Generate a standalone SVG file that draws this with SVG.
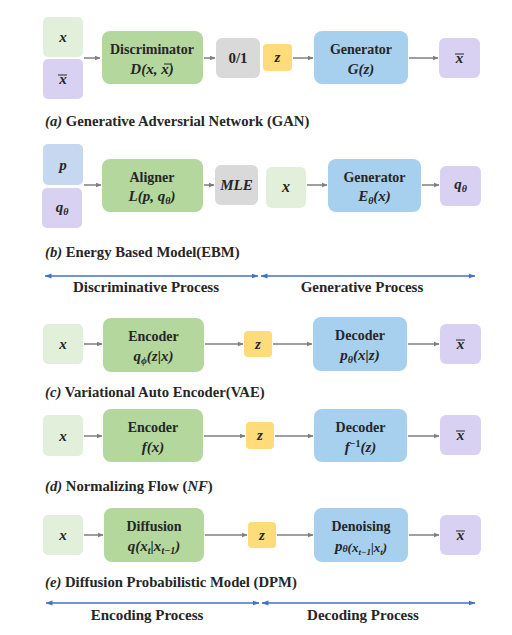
<svg xmlns="http://www.w3.org/2000/svg" width="512" height="635" viewBox="0 0 512 635">
<defs>
<marker id="ah" markerWidth="6" markerHeight="6" refX="5.5" refY="3" orient="auto" markerUnits="userSpaceOnUse"><path d="M0,0.5 L6,3 L0,5.5 Z" fill="#7f7f7f"/></marker>
<marker id="bh" markerWidth="7" markerHeight="6" refX="6.5" refY="3" orient="auto-start-reverse" markerUnits="userSpaceOnUse"><path d="M0,0.5 L7,3 L0,5.5 Z" fill="#4472c4"/></marker>
</defs>
<style>
.lg{fill:#e2efda}.g{fill:#b3d79d}.pu{fill:#d8d1f1}.gr{fill:#d9d9d9}.y{fill:#ffdc7a}.b{fill:#a7d0ee}.lb{fill:#c6d7f0}
text{font-family:"Liberation Serif","DejaVu Serif",serif;font-weight:bold;fill:#262626;text-anchor:middle}
.m{font-style:italic}
.t{font-size:14px}
.mt{font-size:15px}
.s{font-size:10px}
.cap{font-size:14.7px;text-anchor:start}
.lbl{font-size:15px}
.ob{stroke:#262626;stroke-width:1}
.c{stroke:#7f7f7f;stroke-width:1.5;fill:none;marker-end:url(#ah)}
.bl{stroke:#4472c4;stroke-width:1.5;fill:none;marker-start:url(#bh);marker-end:url(#bh)}
</style>
<rect width="512" height="635" fill="#ffffff"/>

<!-- (a) GAN -->
<g id="a_x"><rect class="lg" x="43" y="17" width="40" height="40" rx="5"/><text class="m mt" x="63" y="42">x</text></g>
<g id="a_xbar"><rect class="pu" x="43" y="59" width="40" height="40" rx="5"/><text class="m mt" x="63" y="84">x</text><line class="ob" x1="58" y1="75" x2="67" y2="75"/></g>
<g id="a_disc"><rect class="g" x="102" y="31" width="101" height="53" rx="8"/><text class="t" x="152" y="54">Discriminator</text><text class="m mt" x="152" y="74">D(x, x)</text><line class="ob" x1="164" y1="64" x2="172" y2="64"/></g>
<g id="a_01"><rect class="gr" x="216" y="38" width="44" height="40" rx="6"/><text class="t" x="238" y="63" style="font-size:15px">0/1</text></g>
<g id="a_z"><rect class="y" x="263" y="44" width="29" height="27" rx="4"/><text class="m mt" x="277.5" y="62">z</text></g>
<g id="a_gen"><rect class="b" x="314" y="31" width="94" height="53" rx="8"/><text class="t" x="361" y="54">Generator</text><text class="m mt" x="361" y="74">G(z)</text></g>
<g id="a_out"><rect class="pu" x="439" y="38" width="41" height="40" rx="6"/><text class="m mt" x="459.5" y="63">x</text><line class="ob" x1="455" y1="54" x2="464" y2="54"/></g>
<text class="cap" x="45" y="126"><tspan class="m">(a)</tspan> Generative Adversrial Network (GAN)</text>

<!-- (b) EBM -->
<g id="b_p"><rect class="lb" x="43" y="144" width="40" height="41" rx="5"/><text class="m mt" x="63" y="170">p</text></g>
<g id="b_q"><rect class="pu" x="42" y="188" width="40" height="40" rx="5"/><text class="m mt" x="62" y="212">q<tspan class="s" dy="3">θ</tspan></text></g>
<g id="b_align"><rect class="g" x="102" y="159" width="101" height="53" rx="8"/><text class="t" x="152" y="182">Aligner</text><text class="m mt" x="152" y="201">L(p, q<tspan class="s" dy="3">θ</tspan><tspan dy="-3">)</tspan></text></g>
<g id="b_mle"><rect class="gr" x="215" y="165" width="43" height="40" rx="6"/><text class="m mt" x="236.5" y="190">MLE</text></g>
<g id="b_x"><rect class="lg" x="266" y="167" width="40" height="41" rx="6"/><text class="m" x="286" y="192" style="font-size:16px">x</text></g>
<g id="b_gen"><rect class="b" x="328" y="159" width="93" height="53" rx="8"/><text class="t" x="374.5" y="182">Generator</text><text class="m mt" x="374.5" y="201">E<tspan class="s" dy="3">θ</tspan><tspan dy="-3">(x)</tspan></text></g>
<g id="b_out"><rect class="pu" x="440" y="166" width="41" height="40" rx="6"/><text class="m mt" x="460.5" y="189">q<tspan class="s" dy="3">θ</tspan></text></g>
<text class="cap" x="45" y="257"><tspan class="m">(b)</tspan> Energy Based Model(EBM)</text>

<!-- (c) VAE -->
<g id="c_x"><rect class="lg" x="43" y="324" width="40" height="40" rx="5"/><text class="m mt" x="63" y="349">x</text></g>
<g id="c_enc"><rect class="g" x="103" y="318" width="101" height="54" rx="8"/><text class="t" x="153.5" y="341">Encoder</text><text class="m mt" x="153.5" y="361">q<tspan class="s" dy="3">ϕ</tspan><tspan dy="-3">(z|x)</tspan></text></g>
<g id="c_z"><rect class="y" x="244" y="331" width="28" height="26" rx="4"/><text class="m mt" x="258" y="349">z</text></g>
<g id="c_dec"><rect class="b" x="313" y="317" width="94" height="54" rx="8"/><text class="t" x="360" y="340">Decoder</text><text class="m mt" x="360" y="360">p<tspan class="s" dy="3">θ</tspan><tspan dy="-3">(x|z)</tspan></text></g>
<g id="c_out"><rect class="pu" x="440" y="324" width="41" height="40" rx="6"/><text class="m mt" x="460.5" y="349">x</text><line class="ob" x1="456" y1="340" x2="465" y2="340"/></g>
<text class="cap" x="45" y="397"><tspan class="m">(c)</tspan> Variational Auto Encoder(VAE)</text>

<!-- (d) NF -->
<g id="d_x"><rect class="lg" x="43" y="415" width="40" height="41" rx="5"/><text class="m mt" x="63" y="441">x</text></g>
<g id="d_enc"><rect class="g" x="103" y="409" width="100" height="53" rx="8"/><text class="t" x="153" y="432">Encoder</text><text class="m mt" x="153" y="452">f(x)</text></g>
<g id="d_z"><rect class="y" x="246" y="422" width="28" height="27" rx="4"/><text class="m mt" x="260" y="440">z</text></g>
<g id="d_dec"><rect class="b" x="314" y="409" width="93" height="53" rx="8"/><text class="t" x="360.5" y="432">Decoder</text><text class="m mt" x="360.5" y="452">f<tspan class="s" style="font-style:normal" dy="-5">−1</tspan><tspan dy="5">(z)</tspan></text></g>
<g id="d_out"><rect class="pu" x="440" y="415" width="41" height="40" rx="6"/><text class="m mt" x="460.5" y="440">x</text><line class="ob" x1="456" y1="431" x2="465" y2="431"/></g>
<text class="cap" x="45" y="491"><tspan class="m">(d)</tspan> Normalizing Flow (<tspan class="m">NF</tspan>)</text>

<!-- (e) DPM -->
<g id="e_x"><rect class="lg" x="43" y="515" width="40" height="40" rx="5"/><text class="m mt" x="63" y="540">x</text></g>
<g id="e_diff"><rect class="g" x="104" y="508" width="100" height="54" rx="8"/><text class="t" x="154" y="531">Diffusion</text><text class="m mt" x="154" y="551">q(x<tspan class="s" dy="3">t</tspan><tspan dy="-3">|x</tspan><tspan class="s" dy="3">t−1</tspan><tspan dy="-3">)</tspan></text></g>
<g id="e_z"><rect class="y" x="248" y="522" width="28" height="26" rx="4"/><text class="m mt" x="262" y="540">z</text></g>
<g id="e_den"><rect class="b" x="314" y="508" width="94" height="54" rx="8"/><text class="t" x="361" y="531">Denoising</text><text class="m" x="361" y="551" style="font-size:15px">p<tspan style="font-size:10px" dy="1">θ</tspan><tspan style="font-size:13px" dy="0">(x</tspan><tspan style="font-size:9px" dy="3">t−1</tspan><tspan style="font-size:13px" dy="-3">|x</tspan><tspan style="font-size:9px" dy="3">t</tspan><tspan style="font-size:13px" dy="-3">)</tspan></text></g>
<g id="e_out"><rect class="pu" x="440" y="515" width="41" height="40" rx="6"/><text class="m mt" x="460.5" y="540">x</text><line class="ob" x1="456" y1="531" x2="465" y2="531"/></g>
<text class="cap" x="45" y="587"><tspan class="m">(e)</tspan> Diffusion Probabilistic Model (DPM)</text>

<!-- process labels -->
<text class="lbl" x="146" y="292">Discriminative Process</text>
<text class="lbl" x="362" y="292">Generative Process</text>
<text class="lbl" x="147" y="620">Encoding Process</text>
<text class="lbl" x="363" y="620">Decoding Process</text>

<g id="connectors">
<line class="c" x1="84" y1="58" x2="100" y2="58"/>
<line class="c" x1="204" y1="58" x2="215" y2="58"/>
<line class="c" x1="293" y1="58" x2="313" y2="58"/>
<line class="c" x1="409" y1="58" x2="438" y2="58"/>
<line class="c" x1="84" y1="185" x2="101" y2="185"/>
<line class="c" x1="204" y1="185" x2="214" y2="185"/>
<line class="c" x1="307" y1="185" x2="327" y2="185"/>
<line class="c" x1="422" y1="185" x2="439" y2="185"/>
<line class="c" x1="84" y1="344" x2="102" y2="344"/>
<line class="c" x1="205" y1="344" x2="243" y2="344"/>
<line class="c" x1="273" y1="344" x2="312" y2="344"/>
<line class="c" x1="408" y1="344" x2="439" y2="344"/>
<line class="c" x1="84" y1="436" x2="102" y2="436"/>
<line class="c" x1="204" y1="436" x2="245" y2="436"/>
<line class="c" x1="275" y1="436" x2="313" y2="436"/>
<line class="c" x1="408" y1="436" x2="439" y2="436"/>
<line class="c" x1="84" y1="535" x2="103" y2="535"/>
<line class="c" x1="205" y1="535" x2="247" y2="535"/>
<line class="c" x1="277" y1="535" x2="313" y2="535"/>
<line class="c" x1="409" y1="535" x2="439" y2="535"/>
<line class="bl" x1="45" y1="276" x2="258" y2="276"/>
<line class="bl" x1="261" y1="276" x2="475" y2="276"/>
<line class="bl" x1="46" y1="603" x2="259" y2="603"/>
<line class="bl" x1="262" y1="603" x2="475" y2="603"/>
</g>
</svg>
